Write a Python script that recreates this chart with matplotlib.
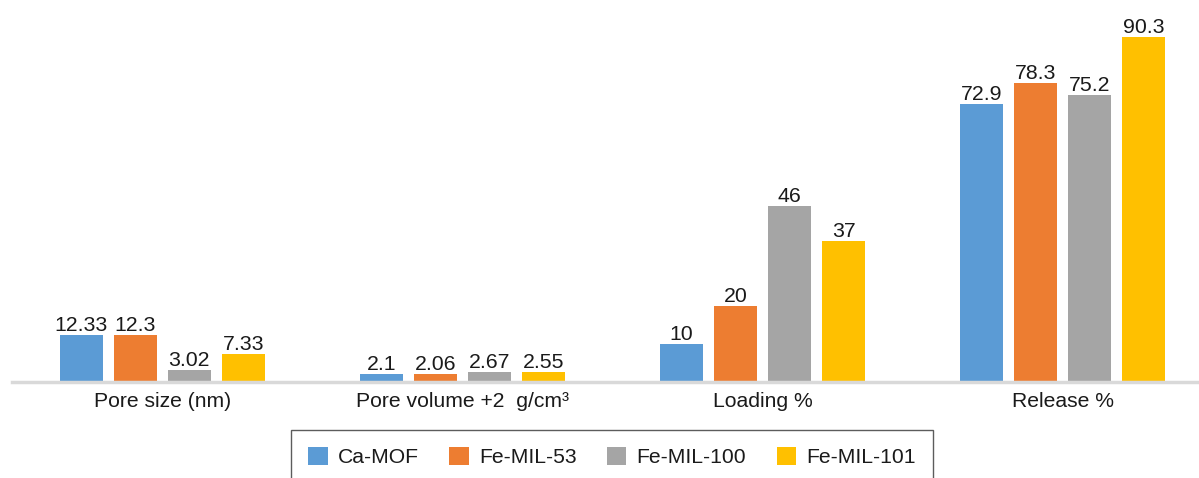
import numpy as np
import matplotlib
matplotlib.use("Agg")
import matplotlib.pyplot as plt

plt.rcParams['font.family'] = ['Liberation Sans', 'DejaVu Sans']

# categories and series
categories = ["Pore size (nm)", "Pore volume +2  g/cm\u00b3", "Loading %", "Release %"]
series = ["Ca-MOF", "Fe-MIL-53", "Fe-MIL-100", "Fe-MIL-101"]
ca_mof = [12.33, 2.1, 10, 72.9]
fe_mil_53 = [12.3, 2.06, 20, 78.3]
fe_mil_100 = [3.02, 2.67, 46, 75.2]
fe_mil_101 = [7.33, 2.55, 37, 90.3]
colors = ["#5B9BD5", "#ED7D31", "#A5A5A5", "#FFC000"]

fig = plt.figure(figsize=(11.99, 4.78), dpi=100)
ax = fig.add_axes([12 / 1199, 1 - 382 / 478, 1201 / 1199, 382 / 478])

x = np.arange(len(categories))
width = 0.143
step = 0.18
for i, (name, vals) in enumerate(zip(series, [ca_mof, fe_mil_53, fe_mil_100, fe_mil_101])):
    bars = ax.bar(x + (i - 1.5) * step, vals, width, color=colors[i], label=name)
    ax.bar_label(bars, labels=[str(v) for v in vals], padding=0, fontsize=15.3, color="#1a1a1a")

ax.set_xlim(-0.5, 3.5)
ax.set_ylim(0, 100)
ax.set_yticks([])
ax.set_xticks(x)
ax.set_xticklabels(categories, fontsize=15.2, color="#1a1a1a")
ax.tick_params(axis="x", length=0, pad=7)
for s in ["top", "right", "left"]:
    ax.spines[s].set_visible(False)
ax.spines["bottom"].set_color("#D9D9D9")
ax.spines["bottom"].set_linewidth(2.5)

leg = fig.legend(loc="upper left", bbox_to_anchor=(291 / 1199, 1 - 430 / 478), ncol=4,
                 fontsize=15.2, frameon=True, fancybox=False, borderaxespad=0,
                 handlelength=0.91, handleheight=0.91, handletextpad=0.48, columnspacing=1.46,
                 borderpad=0.82)
leg.get_frame().set_edgecolor("#333333")
leg.get_frame().set_linewidth(1.0)
for t in leg.get_texts():
    t.set_color("#1a1a1a")

fig.savefig("out.png", dpi=100)
